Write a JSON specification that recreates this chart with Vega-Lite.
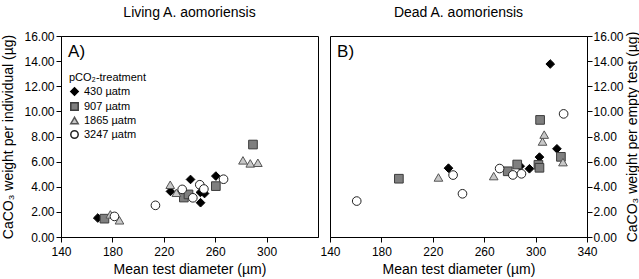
{
  "$schema": "https://vega.github.io/schema/vega-lite/v6.json",
  "background": "white",
  "padding": {"left": 1, "right": 1, "top": 5, "bottom": 2},
  "spacing": 0,
  "config": {
    "font": "Liberation Sans",
    "view": {"stroke": "black", "strokeWidth": 1},
    "axis": {"grid": false, "domainColor": "black", "tickColor": "black", "labelColor": "black", "titleColor": "black", "labelFontSize": 12, "titleFontSize": 14, "titleFontWeight": "normal", "tickSize": 5, "labelOverlap": false, "labelBound": false, "labelFlush": false},
    "axisY": {"labelPadding": 2, "titlePadding": 8},
    "axisX": {"labelPadding": 4, "titlePadding": 5},
    "title": {"fontSize": 14, "fontWeight": "normal", "color": "black", "offset": 10},
    "legend": {"titleFontSize": 11, "titleFontWeight": "normal", "labelFontSize": 11, "titleColor": "black", "labelColor": "black", "rowPadding": 0, "padding": 0, "symbolSize": 55, "titlePadding": 3, "labelOffset": 4}
  },
  "datasets": {
    "pts": [
      {"panel": "Living", "t": "430 µatm", "d": 168.6, "w": 1.51},
      {"panel": "Living", "t": "430 µatm", "d": 225.2, "w": 3.63},
      {"panel": "Living", "t": "430 µatm", "d": 240.8, "w": 4.58},
      {"panel": "Living", "t": "430 µatm", "d": 248.6, "w": 2.73},
      {"panel": "Living", "t": "430 µatm", "d": 248.5, "w": 3.55},
      {"panel": "Living", "t": "430 µatm", "d": 251.7, "w": 3.46},
      {"panel": "Living", "t": "430 µatm", "d": 260.5, "w": 4.85},
      {"panel": "Living", "t": "907 µatm", "d": 173.8, "w": 1.46},
      {"panel": "Living", "t": "907 µatm", "d": 235.6, "w": 3.14},
      {"panel": "Living", "t": "907 µatm", "d": 239.2, "w": 3.39},
      {"panel": "Living", "t": "907 µatm", "d": 260.5, "w": 4.05},
      {"panel": "Living", "t": "907 µatm", "d": 289.4, "w": 7.36},
      {"panel": "Living", "t": "1865 µatm", "d": 178.4, "w": 1.8},
      {"panel": "Living", "t": "1865 µatm", "d": 185.5, "w": 1.33},
      {"panel": "Living", "t": "1865 µatm", "d": 225.0, "w": 4.16},
      {"panel": "Living", "t": "1865 µatm", "d": 229.8, "w": 3.52},
      {"panel": "Living", "t": "1865 µatm", "d": 281.6, "w": 6.1},
      {"panel": "Living", "t": "1865 µatm", "d": 287.3, "w": 5.86},
      {"panel": "Living", "t": "1865 µatm", "d": 293.2, "w": 5.91},
      {"panel": "Living", "t": "3247 µatm", "d": 181.6, "w": 1.64},
      {"panel": "Living", "t": "3247 µatm", "d": 213.5, "w": 2.52},
      {"panel": "Living", "t": "3247 µatm", "d": 234.3, "w": 3.79},
      {"panel": "Living", "t": "3247 µatm", "d": 242.6, "w": 3.12},
      {"panel": "Living", "t": "3247 µatm", "d": 248.0, "w": 4.16},
      {"panel": "Living", "t": "3247 µatm", "d": 251.2, "w": 3.82},
      {"panel": "Living", "t": "3247 µatm", "d": 266.5, "w": 4.6},
      {"panel": "Dead", "t": "430 µatm", "d": 232.2, "w": 5.48},
      {"panel": "Dead", "t": "430 µatm", "d": 288.0, "w": 5.64},
      {"panel": "Dead", "t": "430 µatm", "d": 295.2, "w": 5.43},
      {"panel": "Dead", "t": "430 µatm", "d": 303.0, "w": 6.36},
      {"panel": "Dead", "t": "430 µatm", "d": 311.4, "w": 13.77},
      {"panel": "Dead", "t": "430 µatm", "d": 316.6, "w": 7.02},
      {"panel": "Dead", "t": "907 µatm", "d": 193.6, "w": 4.64},
      {"panel": "Dead", "t": "907 µatm", "d": 278.3, "w": 5.23},
      {"panel": "Dead", "t": "907 µatm", "d": 285.7, "w": 5.77},
      {"panel": "Dead", "t": "907 µatm", "d": 302.2, "w": 5.75},
      {"panel": "Dead", "t": "907 µatm", "d": 303.0, "w": 5.51},
      {"panel": "Dead", "t": "907 µatm", "d": 303.5, "w": 9.32},
      {"panel": "Dead", "t": "907 µatm", "d": 319.7, "w": 6.38},
      {"panel": "Dead", "t": "1865 µatm", "d": 224.4, "w": 4.74},
      {"panel": "Dead", "t": "1865 µatm", "d": 267.4, "w": 4.85},
      {"panel": "Dead", "t": "1865 µatm", "d": 305.4, "w": 7.6},
      {"panel": "Dead", "t": "1865 µatm", "d": 306.7, "w": 8.15},
      {"panel": "Dead", "t": "1865 µatm", "d": 321.3, "w": 5.96},
      {"panel": "Dead", "t": "3247 µatm", "d": 160.8, "w": 2.86},
      {"panel": "Dead", "t": "3247 µatm", "d": 235.8, "w": 4.93},
      {"panel": "Dead", "t": "3247 µatm", "d": 243.1, "w": 3.44},
      {"panel": "Dead", "t": "3247 µatm", "d": 272.0, "w": 5.45},
      {"panel": "Dead", "t": "3247 µatm", "d": 282.3, "w": 4.94},
      {"panel": "Dead", "t": "3247 µatm", "d": 289.0, "w": 5.03},
      {"panel": "Dead", "t": "3247 µatm", "d": 321.8, "w": 9.8}
    ]
  },
  "resolve": {"scale": {"shape": "independent", "fill": "independent", "stroke": "independent"}, "legend": {"shape": "independent", "fill": "independent", "stroke": "independent"}},
  "hconcat": [
    {
      "width": 257,
      "height": 201,
      "title": {"text": "Living A. aomoriensis"},
      "layer": [
        {
          "data": {"name": "pts"},
          "transform": [{"filter": "datum.panel === 'Living'"}],
          "mark": {"type": "point", "filled": true, "size": 75, "strokeWidth": 1, "opacity": 1},
          "encoding": {
            "x": {"field": "d", "type": "quantitative", "scale": {"domain": [140, 340], "nice": false}, "axis": {"values": [140, 180, 220, 260, 300], "labelOverlap": false, "labelFlush": false, "title": "Mean test diameter (µm)"}},
            "y": {"field": "w", "type": "quantitative", "scale": {"domain": [0, 16], "nice": false}, "axis": {"values": [0, 2, 4, 6, 8, 10, 12, 14, 16], "tickCount": 9, "labelOverlap": false, "labelFlush": false, "format": ".2f", "title": "CaCO₃ weight per individual (µg)"}},
            "shape": {"field": "t", "type": "nominal", "scale": {"domain": ["430 µatm", "907 µatm", "1865 µatm", "3247 µatm"], "range": ["diamond", "square", "triangle-up", "circle"]}, "legend": {"title": "pCO₂-treatment", "orient": "none", "legendX": 8, "legendY": 36, "labelExpr": "length(datum.label) < 9 ? '\u2007' + datum.label : datum.label"}},
            "fill": {"field": "t", "type": "nominal", "scale": {"domain": ["430 µatm", "907 µatm", "1865 µatm", "3247 µatm"], "range": ["#000000", "#7f7f7f", "#c8c8c8", "#ffffff"]}, "legend": {"title": "pCO₂-treatment", "orient": "none", "legendX": 8, "legendY": 36, "labelExpr": "length(datum.label) < 9 ? '\u2007' + datum.label : datum.label"}},
            "stroke": {"field": "t", "type": "nominal", "scale": {"domain": ["430 µatm", "907 µatm", "1865 µatm", "3247 µatm"], "range": ["#000000", "#3c3c3c", "#555555", "#222222"]}, "legend": {"title": "pCO₂-treatment", "orient": "none", "legendX": 8, "legendY": 36, "labelExpr": "length(datum.label) < 9 ? '\u2007' + datum.label : datum.label"}}
          }
        },
        {
          "data": {"values": [{"label": "A)"}]},
          "mark": {"type": "text", "align": "left", "baseline": "middle", "fontSize": 17, "color": "black"},
          "encoding": {"x": {"datum": 145.5}, "y": {"datum": 14.75}, "text": {"field": "label"}}
        }
      ]
    },
    {
      "width": 257,
      "height": 201,
      "title": {"text": "Dead A. aomoriensis"},
      "layer": [
        {
          "data": {"name": "pts"},
          "transform": [{"filter": "datum.panel === 'Dead'"}],
          "mark": {"type": "point", "filled": true, "size": 75, "strokeWidth": 1, "opacity": 1},
          "encoding": {
            "x": {"field": "d", "type": "quantitative", "scale": {"domain": [140, 340], "nice": false}, "axis": {"values": [140, 180, 220, 260, 300, 340], "labelOverlap": false, "labelFlush": false, "title": "Mean test diameter (µm)"}},
            "y": {"field": "w", "type": "quantitative", "scale": {"domain": [0, 16], "nice": false}, "axis": {"orient": "right", "values": [0, 2, 4, 6, 8, 10, 12, 14, 16], "tickCount": 9, "labelOverlap": false, "labelFlush": false, "format": ".2f", "title": "CaCO₃ weight per empty test (µg)", "titleAngle": 270, "titleBaseline": "top", "labelPadding": 1, "titlePadding": 2}},
            "shape": {"field": "t", "type": "nominal", "scale": {"domain": ["430 µatm", "907 µatm", "1865 µatm", "3247 µatm"], "range": ["diamond", "square", "triangle-up", "circle"]}, "legend": null},
            "fill": {"field": "t", "type": "nominal", "scale": {"domain": ["430 µatm", "907 µatm", "1865 µatm", "3247 µatm"], "range": ["#000000", "#7f7f7f", "#c8c8c8", "#ffffff"]}, "legend": null},
            "stroke": {"field": "t", "type": "nominal", "scale": {"domain": ["430 µatm", "907 µatm", "1865 µatm", "3247 µatm"], "range": ["#000000", "#3c3c3c", "#555555", "#222222"]}, "legend": null}
          }
        },
        {
          "data": {"values": [{"label": "B)"}]},
          "mark": {"type": "text", "align": "left", "baseline": "middle", "fontSize": 17, "color": "black"},
          "encoding": {"x": {"datum": 145.5}, "y": {"datum": 14.75}, "text": {"field": "label"}}
        }
      ]
    }
  ]
}
